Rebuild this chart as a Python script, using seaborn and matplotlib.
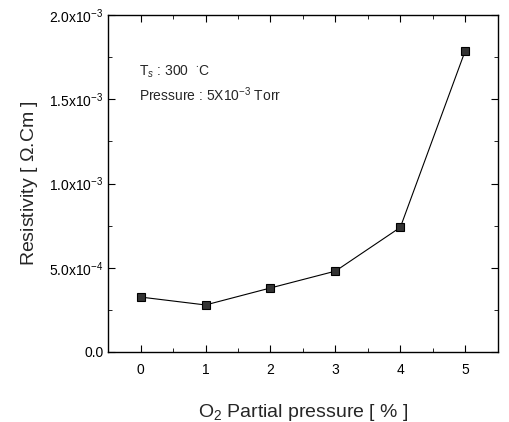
import numpy as np
import pandas as pd
import matplotlib
matplotlib.use('Agg')
import matplotlib.pyplot as plt
import seaborn as sns
from matplotlib.ticker import FixedLocator, MultipleLocator

# data
o2_partial = [0, 1, 2, 3, 4, 5]
resistivity = [3.26e-4, 2.79e-4, 3.80e-4, 4.80e-4, 7.40e-4, 1.79e-3]

ytick_vals = [0.0, 5.0e-4, 1.0e-3, 1.5e-3, 2.0e-3]
ytick_labels = ['0.0', '5.0x10$^{-4}$', '1.0x10$^{-3}$', '1.5x10$^{-3}$', '2.0x10$^{-3}$']

sns.set_style('ticks')
plt.rcParams['font.family'] = ['Liberation Sans', 'DejaVu Sans']
plt.rcParams['mathtext.fontset'] = 'custom'
plt.rcParams['mathtext.rm'] = 'Liberation Sans'
plt.rcParams['mathtext.it'] = 'Liberation Sans:italic'

df = pd.DataFrame({'O2': o2_partial, 'Rho': resistivity})

fig = plt.figure(figsize=(5.1, 4.22), dpi=100)
ax = fig.add_axes([0.212, 0.166, 0.764, 0.798])

sns.lineplot(data=df, x='O2', y='Rho', ax=ax, color='black', linewidth=0.8,
             marker='s', markersize=6, markerfacecolor='#333333',
             markeredgecolor='black', markeredgewidth=0.8)

ax.set_xlim(-0.5, 5.5)
ax.set_ylim(0, 2.0e-3)
ax.set_xticks(o2_partial)
ax.xaxis.set_minor_locator(MultipleLocator(0.5))
ax.yaxis.set_major_locator(FixedLocator(ytick_vals))
ax.set_yticklabels(ytick_labels)
ax.yaxis.set_minor_locator(MultipleLocator(2.5e-4))

ax.tick_params(which='both', direction='in', top=True, right=True, colors='black')
ax.tick_params(which='major', length=5, width=0.8, labelsize=10)
ax.tick_params(which='minor', length=3, width=0.6)
ax.tick_params(axis='x', pad=8)
for s in ax.spines.values():
    s.set_color('black')
    s.set_linewidth(1.0)

ax.set_xlabel('O$_2$ Partial pressure [ % ]', fontsize=14, labelpad=18)
ax.set_ylabel(r'Resistivity [ $\Omega$.Cm ]', fontsize=14, labelpad=6)

ax.text(0.08, 0.82, 'T$_s$ : 300  $^{\\bullet}$C', transform=ax.transAxes, fontsize=10)
ax.text(0.08, 0.745, 'Pressure : 5X10$^{-3}$ Torr', transform=ax.transAxes, fontsize=10)

fig.savefig('out.png', dpi=100)
